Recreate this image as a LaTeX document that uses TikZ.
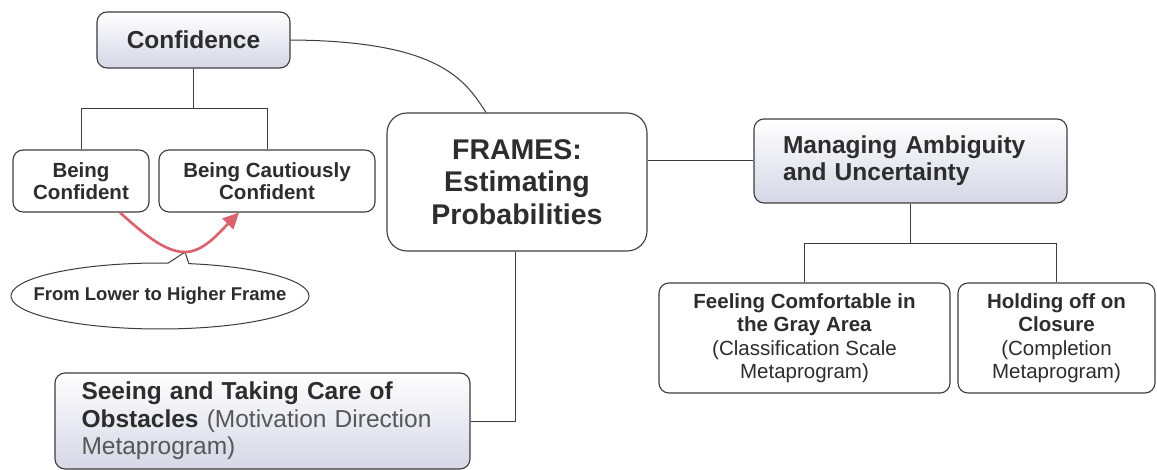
\documentclass[tikz,border=0pt]{standalone}
\usepackage{fontspec}
\setmainfont{Liberation Sans}
\usetikzlibrary{shapes.callouts,arrows.meta,calc}
\definecolor{txt}{RGB}{45,45,45}
\definecolor{lin}{RGB}{60,60,60}
\definecolor{lav}{RGB}{214,214,230}
\definecolor{arr}{RGB}{222,96,107}
\tikzset{
  box/.style={draw=lin, line width=1.1pt, rounded corners=10pt, fill=white, text=txt, align=center, inner sep=2pt},
  gbox/.style={box, top color=white, bottom color=lav},
  conn/.style={draw=lin, line width=1pt},
}
\begin{document}
\begin{tikzpicture}[x=1pt,y=-1pt]
\useasboundingbox (0,0) rectangle (1157,470);
% nodes
\node[gbox, minimum width=193pt, minimum height=56pt, font=\fontsize{24.5}{28}\selectfont\bfseries] (conf) at (193.5,40) {Confidence};
\node[box, minimum width=136pt, minimum height=62pt, font=\fontsize{20.5}{21.5}\selectfont\bfseries] (bc) at (81,181) {Being\\Confident};
\node[box, minimum width=216pt, minimum height=62pt, font=\fontsize{20.5}{21.5}\selectfont\bfseries] (bcc) at (267,181) {Being Cautiously\\Confident};
\node[box, rounded corners=20pt, minimum width=260pt, minimum height=138pt, font=\fontsize{28.5}{32.5}\selectfont\bfseries] (frames) at (517,182) {FRAMES:\\Estimating\\Probabilities};
\node[gbox, minimum width=313pt, minimum height=84pt, text width=255pt, align=left, font=\fontsize{24.5}{27}\selectfont\bfseries] (mana) at (910.5,161) {Managing Ambiguity\\and Uncertainty};
\node[box, minimum width=291pt, minimum height=110pt, font=\fontsize{20.5}{23.5}\selectfont] (feel) at (804.5,338) {\textbf{Feeling Comfortable in}\\\textbf{the Gray Area}\\(Classification Scale\\Metaprogram)};
\node[box, minimum width=197pt, minimum height=110pt, font=\fontsize{20.5}{23.5}\selectfont] (hold) at (1056.5,338) {\textbf{Holding off on}\\\textbf{Closure}\\(Completion\\Metaprogram)};
\node[gbox, minimum width=415pt, minimum height=96pt, text width=362pt, align=left, font=\fontsize{24.5}{27.5}\selectfont] (seeing) at (262.5,421) {\textbf{Seeing and Taking Care of}\\\textbf{Obstacles} {\color{txt!80}(Motivation Direction}\\{\color{txt!80}Metaprogram)}};
\node[ellipse callout, draw=lin, line width=1pt, fill=white, text=txt, inner xsep=-22pt, inner ysep=0pt, minimum width=298pt, minimum height=66pt, callout absolute pointer={(185,252)}, callout pointer arc=8, font=\fontsize{18.5}{20}\selectfont\bfseries] (call) at (160,296) {From Lower to Higher Frame};
% connectors
\draw[conn] (conf.south) -- ++(0,40) coordinate (cj) -| (bc.north);
\draw[conn] (cj) -| (bcc.north);
\draw[conn] (conf.east) .. controls (440,41) and (465,80) .. ([xshift=-31pt]frames.north);
\draw[conn] (mana.west) -- (mana.west -| frames.east);
\draw[conn] (mana.south) -- ++(0,40) coordinate (mj) -| (feel.north);
\draw[conn] (mj) -| (hold.north);
\draw[conn] ([xshift=-2pt]frames.south) |- (seeing.east);
% red arrow
\draw[draw=arr, line width=2.6pt, -{Triangle[length=16pt,width=15pt]}] ([xshift=39pt]bc.south) .. controls (150,240) and (168,252) .. (185,252) .. controls (203,252) and (218,234) .. ([xshift=-28pt]bcc.south);
\end{tikzpicture}
\end{document}
